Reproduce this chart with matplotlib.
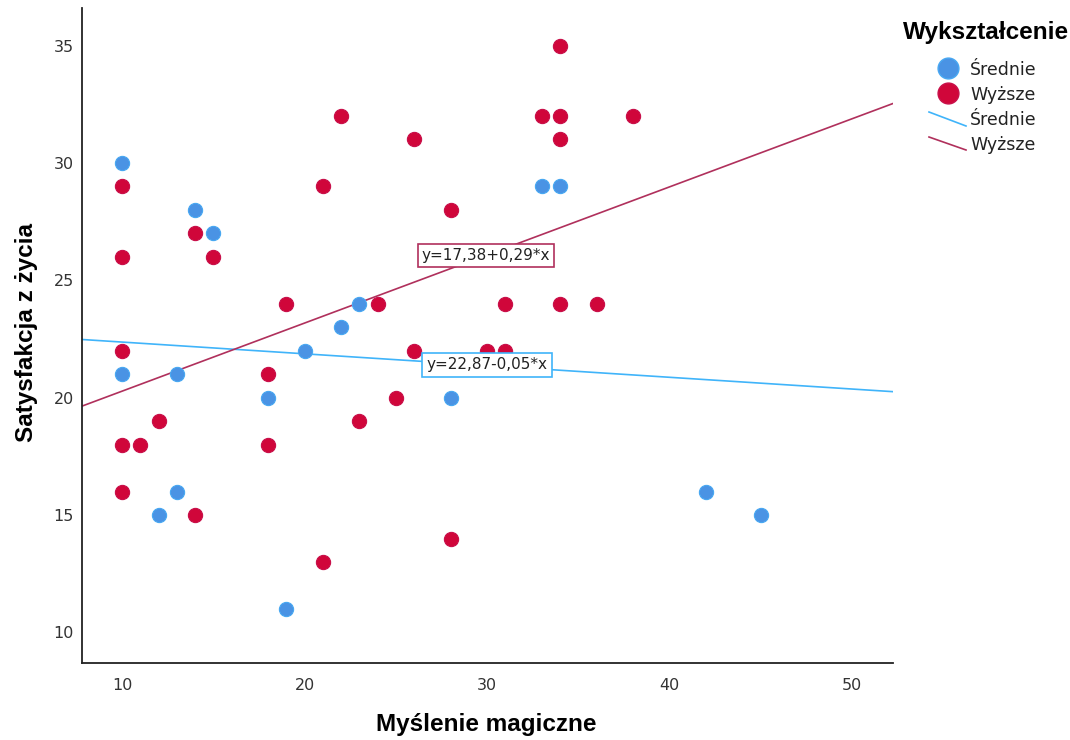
import matplotlib
matplotlib.use("Agg")
import matplotlib.pyplot as plt
from matplotlib.lines import Line2D
import numpy as np

plt.rcParams['font.family'] = ['Liberation Sans', 'DejaVu Sans']

# Średnie (blue)
sr_x = [10, 10, 12, 13, 13, 14, 15, 18, 19, 20, 22, 23, 28, 33, 34, 42, 45]
sr_y = [30, 21, 15, 21, 16, 28, 27, 20, 11, 22, 23, 24, 20, 29, 29, 16, 15]

# Wyższe (red)
wy_x = [10, 10, 10, 10, 10, 11, 12, 14, 14, 15, 18, 18, 19, 21, 21, 22, 23,
        24, 25, 26, 26, 28, 28, 30, 31, 31, 33, 34, 34, 34, 34, 36, 38]
wy_y = [29, 26, 22, 18, 16, 18, 19, 27, 15, 26, 21, 18, 24, 29, 13, 32, 19,
        24, 20, 31, 22, 28, 14, 22, 24, 22, 32, 35, 32, 31, 24, 24, 32]

# Fit lines (from labels)
fit_sr = (22.87, -0.05)
fit_wy = (17.38, 0.29)
lab_sr = "y=22,87-0,05*x"
lab_wy = "y=17,38+0,29*x"

x_ticks = [10, 20, 30, 40, 50]
y_ticks = [10, 15, 20, 25, 30, 35]

c_sr = '#4A93E4'
c_sr_edge = '#48A8F2'
c_wy = '#D0063A'
c_wy_edge = '#C8104A'
c_line_sr = '#40B4FA'
c_line_wy = '#B0305C'

fig = plt.figure(figsize=(10.7, 7.4), dpi=100)
ax = fig.add_axes([82/1070, 1-663/740, (893-82)/1070, (663-8)/740])
xlim = (7.8, 52.25)
ax.set_xlim(*xlim)
ax.set_ylim(8.7, 36.6)

xx = np.array(xlim)
ax.plot(xx, fit_sr[0] + fit_sr[1]*xx, color=c_line_sr, lw=1.2, zorder=2)
ax.plot(xx, fit_wy[0] + fit_wy[1]*xx, color=c_line_wy, lw=1.2, zorder=2)

ax.scatter(sr_x, sr_y, s=105, color=c_sr, edgecolors=c_sr_edge, linewidths=0.8, zorder=3)
ax.scatter(wy_x, wy_y, s=105, color=c_wy, edgecolors=c_wy_edge, linewidths=0.8, zorder=3)

ax.text(29.95, 26.05, lab_wy, ha='center', va='center', fontsize=11, color='#222222',
        family=['DejaVu Sans'], zorder=4,
        bbox=dict(boxstyle='square,pad=0.25', fc='white', ec=c_line_wy, lw=1.2))
ax.text(30.0, 21.4, lab_sr, ha='center', va='center', fontsize=11, color='#222222',
        family=['DejaVu Sans'], zorder=4,
        bbox=dict(boxstyle='square,pad=0.3', fc='white', ec=c_line_sr, lw=1.2))

for s in ['top', 'right']:
    ax.spines[s].set_visible(False)
for s in ['left', 'bottom']:
    ax.spines[s].set_color('#222222')
    ax.spines[s].set_linewidth(1.3)
ax.set_xticks(x_ticks)
ax.set_yticks(y_ticks)
ax.tick_params(axis='y', length=0, labelsize=11.5, labelcolor='#333333', pad=6)
ax.tick_params(axis='x', length=0, labelsize=11.5, labelcolor='#333333', pad=11)
for lbl in ax.get_xticklabels() + ax.get_yticklabels():
    lbl.set_family(['DejaVu Sans'])

ax.set_xlabel('Myślenie magiczne', fontsize=17.5, fontweight='bold')
ax.set_ylabel('Satysfakcja z życia', fontsize=17.5, fontweight='bold')
ax.xaxis.set_label_coords((486-82)/811, (663-724)/655)
ax.yaxis.set_label_coords((26-82)/811, (663-333)/655)
ax.xaxis.label.set_va('center')
ax.yaxis.label.set_va('center')

# Legend drawn manually in figure pixel coords
def fx(px):
    return px/1070
def fy(py):
    return 1 - py/740

fig.text(fx(903), fy(33), 'Wykształcenie', fontsize=17.5, fontweight='bold', va='center', ha='left')
fig.add_artist(Line2D([fx(948)], [fy(68)], marker='o', markersize=15, color=c_sr,
                      markeredgecolor=c_sr_edge, linestyle='none'))
fig.add_artist(Line2D([fx(948)], [fy(93)], marker='o', markersize=15, color=c_wy,
                      markeredgecolor=c_wy_edge, linestyle='none'))
fig.add_artist(Line2D([fx(929), fx(966)], [fy(112), fy(126)], color=c_line_sr, lw=1.2))
fig.add_artist(Line2D([fx(929), fx(966)], [fy(137), fy(150)], color=c_line_wy, lw=1.2))
for py, t in [(70, 'Średnie'), (95, 'Wyższe'), (120, 'Średnie'), (145, 'Wyższe')]:
    fig.text(fx(970), fy(py), t, fontsize=12.5, va='center', ha='left', color='#222222',
             family=['DejaVu Sans'])

fig.savefig('out.png', dpi=100)
